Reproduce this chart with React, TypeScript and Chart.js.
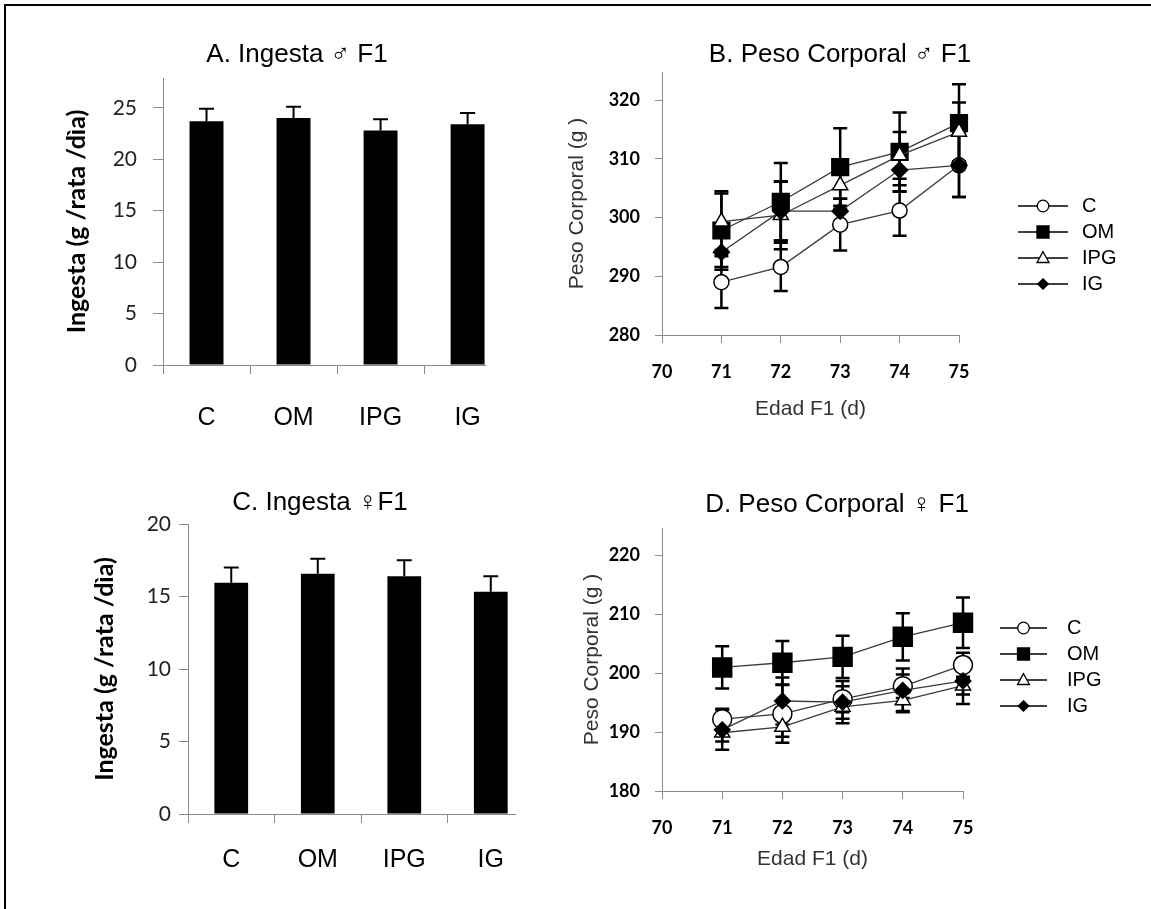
import React, { useEffect, useRef } from 'react';
import { Chart, registerables } from 'chart.js';

Chart.register(...registerables);

// ---------------- data ----------------
const CATEGORIES = ['C', 'OM', 'IPG', 'IG'];
const CATEGORY_BOUNDS = [-0.5, 0.5, 1.5, 2.5];

const INGESTA_MACHOS = [23.7, 24.0, 22.8, 23.4];
const INGESTA_MACHOS_ERR = [1.2, 1.1, 1.1, 1.1];
const INGESTA_HEMBRAS = [15.95, 16.57, 16.4, 15.33];
const INGESTA_HEMBRAS_ERR = [1.05, 1.03, 1.1, 1.07];

const DIAS = [71, 72, 73, 74, 75];
const GRUPOS = ['C', 'OM', 'IPG', 'IG'];

const PESO_M_C = [289.0, 291.6, 298.8, 301.2, 308.9];
const PESO_M_OM = [297.8, 302.7, 308.6, 311.2, 316.1];
const PESO_M_IPG = [299.3, 300.4, 305.5, 310.6, 314.6];
const PESO_M_IG = [294.1, 301.1, 301.1, 308.1, 308.9];
const PESO_M_C_ERR = [4.4, 4.1, 4.4, 4.3, 5.4];
const PESO_M_OM_ERR = [6.7, 6.6, 6.6, 6.7, 6.6];
const PESO_M_IPG_ERR = [4.8, 5.8, 4.0, 4.0, 5.0];
const PESO_M_IG_ERR = [2.5, 5.0, 2.1, 3.7, 5.4];

const PESO_H_C = [192.2, 193.1, 195.6, 197.8, 201.4];
const PESO_H_OM = [201.0, 201.8, 202.8, 206.2, 208.6];
const PESO_H_IPG = [189.9, 190.9, 194.3, 195.4, 197.9];
const PESO_H_IG = [190.4, 195.3, 195.1, 197.1, 198.7];
const PESO_H_C_ERR = [1.8, 4.9, 2.2, 2.0, 2.1];
const PESO_H_OM_ERR = [3.6, 3.7, 3.6, 4.0, 4.3];
const PESO_H_IPG_ERR = [1.5, 1.7, 2.0, 1.8, 1.5];
const PESO_H_IG_ERR = [3.4, 4.0, 3.6, 3.7, 3.9];

// ---------------- styles ----------------
const AXIS = '#8a8a8a';
const FONT_SANS = '"Liberation Sans", Arial, "DejaVu Sans", sans-serif';
const FONT_CAL = 'Lato, "Open Sans", sans-serif';

Chart.defaults.font.family = FONT_SANS;
Chart.defaults.color = '#000';

const MARKERS_B = [
  { style: 'circle', radius: 7.5, fill: '#fff' },
  { style: 'rect', radius: 11.8, fill: '#000' },
  { style: 'triangle', radius: 8.7, fill: '#fff' },
  { style: 'rectRot', radius: 8, fill: '#000' },
];
const MARKERS_D = [
  { style: 'circle', radius: 9.5, fill: '#fff' },
  { style: 'rect', radius: 13.4, fill: '#000' },
  { style: 'triangle', radius: 8.7, fill: '#fff' },
  { style: 'rectRot', radius: 7.8, fill: '#000' },
];
const LEGEND_SIZE: any = { circle: 5.8, rect: 6, triangle: 6, rectRot: 5.2 };

// ---------------- plugins ----------------
function drawMarker(ctx: any, kind: string, cx: number, cy: number, s: number, fill: string) {
  ctx.beginPath();
  if (kind === 'circle') ctx.arc(cx, cy, s, 0, Math.PI * 2);
  else if (kind === 'rect') ctx.rect(cx - s, cy - s, 2 * s, 2 * s);
  else if (kind === 'triangle') {
    ctx.moveTo(cx, cy - s * 1.05);
    ctx.lineTo(cx + s, cy + s * 0.75);
    ctx.lineTo(cx - s, cy + s * 0.75);
    ctx.closePath();
  } else {
    ctx.moveTo(cx, cy - s);
    ctx.lineTo(cx + s, cy);
    ctx.lineTo(cx, cy + s);
    ctx.lineTo(cx - s, cy);
    ctx.closePath();
  }
  ctx.fillStyle = fill;
  ctx.fill();
  ctx.strokeStyle = '#000';
  ctx.lineWidth = 1.3;
  ctx.stroke();
}

function drawErrorBars(chart: any, opts: any) {
  const ctx = chart.ctx;
  ctx.save();
  ctx.strokeStyle = '#000';
  ctx.lineWidth = opts.width;
  chart.data.datasets.forEach((ds: any, i: number) => {
    const errs = ds.errors;
    if (!errs) return;
    const meta = chart.getDatasetMeta(i);
    const yScale = chart.scales[meta.yAxisID];
    meta.data.forEach((el: any, j: number) => {
      const raw = ds.data[j];
      const v = typeof raw === 'number' ? raw : raw.y;
      const x = el.x;
      const yTop = yScale.getPixelForValue(v + errs[j]);
      const yBot = opts.upperOnly ? yScale.getPixelForValue(v) : yScale.getPixelForValue(v - errs[j]);
      const h = opts.cap / 2;
      ctx.beginPath();
      ctx.moveTo(x, yTop);
      ctx.lineTo(x, yBot);
      ctx.moveTo(x - h, yTop);
      ctx.lineTo(x + h, yTop);
      if (!opts.upperOnly) {
        ctx.moveTo(x - h, yBot);
        ctx.lineTo(x + h, yBot);
      }
      ctx.stroke();
    });
  });
  ctx.restore();
}

const errorBarPlugin = {
  id: 'errorBars',
  beforeDatasetsDraw(chart: any, _a: any, opts: any) {
    if (opts && opts.mode === 'line') drawErrorBars(chart, opts);
  },
  afterDatasetsDraw(chart: any, _a: any, opts: any) {
    if (opts && opts.mode === 'bar') drawErrorBars(chart, opts);
  },
};

const seriesLegendPlugin = {
  id: 'seriesLegend',
  afterDraw(chart: any, _a: any, opts: any) {
    if (!opts || !opts.display) return;
    const { ctx, chartArea } = chart;
    ctx.save();
    chart.data.datasets.forEach((ds: any, i: number) => {
      const y = opts.top + i * opts.spacing;
      const x0 = chartArea.right + opts.offset;
      const x1 = x0 + opts.lineLength;
      ctx.strokeStyle = '#000';
      ctx.lineWidth = 1.3;
      ctx.beginPath();
      ctx.moveTo(x0, y);
      ctx.lineTo(x1, y);
      ctx.stroke();
      drawMarker(ctx, ds.pointStyle, (x0 + x1) / 2, y, LEGEND_SIZE[ds.pointStyle], ds.pointBackgroundColor);
      ctx.fillStyle = '#000';
      ctx.font = `${opts.fontSize}px ${FONT_SANS}`;
      ctx.textBaseline = 'middle';
      ctx.textAlign = 'left';
      ctx.fillText(ds.label, x1 + opts.gap, y);
    });
    ctx.restore();
  },
};

// ---------------- configs ----------------
function barConfig(o: any) {
  return {
    type: 'bar',
    data: {
      datasets: [
        {
          label: o.label,
          data: CATEGORIES.map((_, i) => ({ x: i, y: o.values[i] })),
          errors: o.errors,
          backgroundColor: '#000',
          borderWidth: 0,
          categoryPercentage: 1,
          barPercentage: 0.39,
        },
      ],
    },
    options: {
      responsive: false,
      animation: false,
      devicePixelRatio: 1,
      events: [],
      layout: { padding: o.padding },
      plugins: {
        legend: { display: false },
        tooltip: { enabled: false },
        title: {
          display: true,
          text: o.title,
          color: '#000',
          font: { family: FONT_SANS, size: 26, weight: 'normal', lineHeight: 1.2 },
          padding: o.titlePadding,
        },
        errorBars: { mode: 'bar', upperOnly: true, cap: 15, width: 2 },
      },
      scales: {
        x: {
          type: 'linear',
          position: 'bottom',
          min: -0.5,
          max: o.xMax,
          offset: false,
          weight: 0,
          afterBuildTicks: (s: any) => {
            s.ticks = CATEGORY_BOUNDS.map((v) => ({ value: v }));
          },
          ticks: { display: false },
          grid: { display: true, drawOnChartArea: false, drawTicks: true, tickLength: 9, color: AXIS, offset: false },
          border: { display: true, color: AXIS, width: 1 },
          afterFit: (s: any) => {
            s.height = 9;
          },
        },
        x2: {
          type: 'linear',
          position: 'bottom',
          min: -0.5,
          max: o.xMax,
          offset: false,
          weight: 1,
          afterBuildTicks: (s: any) => {
            s.ticks = CATEGORIES.map((_, i) => ({ value: i }));
          },
          ticks: {
            display: true,
            autoSkip: false,
            maxRotation: 0,
            minRotation: 0,
            padding: o.labelPad,
            color: '#000',
            font: { family: FONT_SANS, size: 25 },
            callback: (v: any) => CATEGORIES[v],
          },
          grid: { display: false, offset: false },
          border: { display: false },
          afterFit: (s: any) => {
            s.height = o.x2Height;
          },
        },
        y: {
          type: 'linear',
          position: 'left',
          min: 0,
          max: o.yMax,
          ticks: { stepSize: 5, includeBounds: false, padding: o.yTickPad, color: '#222', font: { family: FONT_CAL, size: 21 } },
          grid: { display: true, drawOnChartArea: false, drawTicks: true, tickLength: o.yTickLen, color: AXIS },
          border: { display: true, color: AXIS },
          title: {
            display: true,
            text: 'Ingesta (g /rata /dìa)',
            color: '#000',
            font: { family: FONT_CAL, size: 25, weight: 'bold', lineHeight: 1.2 },
            padding: { top: o.yTitlePadTop, bottom: 0 },
          },
          afterFit: (s: any) => {
            s.width = o.yWidth;
          },
        },
        yR: {
          type: 'linear',
          position: 'right',
          display: true,
          min: 0,
          max: 1,
          ticks: { display: false },
          grid: { display: false },
          border: { display: false },
          afterFit: (s: any) => {
            s.width = o.yRWidth;
          },
        },
      },
    },
    plugins: [errorBarPlugin],
  };
}

function lineConfig(o: any) {
  return {
    type: 'line',
    data: {
      datasets: GRUPOS.map((g, k) => ({
        label: g,
        data: DIAS.map((d, j) => ({ x: d, y: o.series[k][j] })),
        errors: o.errors[k],
        borderColor: '#3a3a3a',
        borderWidth: 1.3,
        fill: false,
        tension: 0,
        pointStyle: o.markers[k].style,
        pointRadius: o.markers[k].radius,
        pointBackgroundColor: o.markers[k].fill,
        pointBorderColor: '#000',
        pointBorderWidth: 1.5,
        order: 4 - k,
        clip: false,
      })),
    },
    options: {
      responsive: false,
      animation: false,
      devicePixelRatio: 1,
      events: [],
      layout: { padding: o.padding },
      plugins: {
        legend: { display: false },
        tooltip: { enabled: false },
        title: {
          display: true,
          text: o.title,
          color: '#000',
          font: { family: FONT_SANS, size: 26, weight: 'normal', lineHeight: 1.2 },
          padding: o.titlePadding,
        },
        errorBars: { mode: 'line', upperOnly: false, cap: 14, width: 2.5 },
        seriesLegend: {
          display: true,
          top: o.legendTop,
          spacing: 26,
          offset: o.legendOffset,
          lineLength: o.legendLine,
          gap: o.legendGap,
          fontSize: 20,
        },
      },
      scales: {
        x: {
          type: 'linear',
          position: 'bottom',
          min: 70,
          max: 75,
          offset: false,
          ticks: {
            stepSize: 1,
            padding: 18.2,
            autoSkip: false,
            maxRotation: 0,
            color: '#000',
            font: { family: FONT_CAL, size: 18, weight: 'bold' },
          },
          grid: { display: true, drawOnChartArea: false, drawTicks: true, tickLength: 8, color: AXIS },
          border: { display: true, color: AXIS },
          title: {
            display: true,
            text: 'Edad F1 (d)',
            color: '#333',
            font: { family: FONT_SANS, size: 21, lineHeight: 1.2 },
            padding: { top: 0, bottom: o.xTitlePadBottom },
          },
          afterFit: (s: any) => {
            s.height = o.xHeight;
          },
        },
        y: {
          type: 'linear',
          position: 'left',
          min: o.yMin,
          max: o.yMax,
          ticks: {
            stepSize: 10,
            includeBounds: false,
            padding: 15,
            color: '#000',
            font: { family: FONT_CAL, size: 18, weight: 'bold' },
          },
          grid: { display: true, drawOnChartArea: false, drawTicks: true, tickLength: 7, color: AXIS },
          border: { display: true, color: AXIS },
          title: {
            display: true,
            text: 'Peso Corporal (g )',
            color: '#333',
            font: { family: FONT_SANS, size: 21, lineHeight: 1.2 },
            padding: { top: o.yTitlePadTop, bottom: 0 },
          },
          afterFit: (s: any) => {
            s.width = o.yWidth;
          },
        },
        yR: {
          type: 'linear',
          position: 'right',
          display: true,
          min: 0,
          max: 1,
          ticks: { display: false },
          grid: { display: false },
          border: { display: false },
          afterFit: (s: any) => {
            s.width = o.yRWidth;
          },
        },
      },
    },
    plugins: [errorBarPlugin, seriesLegendPlugin],
  };
}

const configA = () =>
  barConfig({
    label: 'Ingesta ♂ F1',
    values: INGESTA_MACHOS,
    errors: INGESTA_MACHOS_ERR,
    title: 'A. Ingesta ♂ F1',
    xMax: 3.2,
    yMax: 27.9,
    padding: { left: 25, right: 6, top: 10, bottom: 21 },
    titlePadding: { top: 29.4, bottom: 7.4 },
    yWidth: 138,
    yRWidth: 84,
    yTickLen: 10,
    yTickPad: 16,
    yTitlePadTop: 37,
    labelPad: 21,
    x2Height: 60,
  });

const configC = () =>
  barConfig({
    label: 'Ingesta ♀ F1',
    values: INGESTA_HEMBRAS,
    errors: INGESTA_HEMBRAS_ERR,
    title: 'C. Ingesta ♀F1',
    xMax: 3.28,
    yMax: 20,
    padding: { left: 65, right: 0, top: 5, bottom: 36 },
    titlePadding: { top: 27.4, bottom: 5.4 },
    yWidth: 123,
    yRWidth: 60,
    yTickLen: 9,
    yTickPad: 8,
    yTitlePadTop: 25,
    labelPad: 14,
    x2Height: 50,
  });

const configB = () =>
  lineConfig({
    title: 'B. Peso Corporal ♂ F1',
    series: [PESO_M_C, PESO_M_OM, PESO_M_IPG, PESO_M_IG],
    errors: [PESO_M_C_ERR, PESO_M_OM_ERR, PESO_M_IPG_ERR, PESO_M_IG_ERR],
    markers: MARKERS_B,
    yMin: 280,
    yMax: 324.8,
    padding: { left: 21, right: 32, top: 10, bottom: 20 },
    titlePadding: { top: 29.4, bottom: 1.4 },
    yWidth: 101,
    yRWidth: 160,
    xHeight: 100,
    xTitlePadBottom: 13.4,
    yTitlePadTop: 3.4,
    legendTop: 206,
    legendOffset: 59,
    legendLine: 50,
    legendGap: 14,
  });

const configD = () =>
  lineConfig({
    title: 'D. Peso Corporal ♀ F1',
    series: [PESO_H_C, PESO_H_OM, PESO_H_IPG, PESO_H_IG],
    errors: [PESO_H_C_ERR, PESO_H_OM_ERR, PESO_H_IPG_ERR, PESO_H_IG_ERR],
    markers: MARKERS_D,
    yMin: 180,
    yMax: 224.7,
    padding: { left: 31, right: 48, top: 5, bottom: 28 },
    titlePadding: { top: 29.4, bottom: 7.4 },
    yWidth: 91,
    yRWidth: 140,
    xHeight: 90,
    xTitlePadBottom: 9.4,
    yTitlePadTop: 8.4,
    legendTop: 173,
    legendOffset: 37,
    legendLine: 47,
    legendGap: 20,
  });

// ---------------- components ----------------
function ChartPanel({ left, top, width, height, config }: any) {
  const ref = useRef<HTMLCanvasElement>(null);
  useEffect(() => {
    const chart = new Chart(ref.current as HTMLCanvasElement, config() as any);
    return () => chart.destroy();
  }, []);
  return (
    <canvas
      ref={ref}
      width={width}
      height={height}
      style={{ position: 'absolute', left, top, width, height, display: 'block' }}
    />
  );
}

export default function App() {
  return (
    <div
      style={{
        position: 'absolute',
        left: 0,
        top: 0,
        width: 1151,
        height: 909,
        background: '#fff',
        overflow: 'hidden',
      }}
    >
      <div
        style={{
          position: 'absolute',
          left: 4,
          top: 4,
          width: 1160,
          height: 920,
          borderTop: '2px solid #000',
          borderLeft: '2px solid #000',
          boxSizing: 'border-box',
        }}
      />
      <ChartPanel left={0} top={0} width={575} height={455} config={configA} />
      <ChartPanel left={540} top={0} width={611} height={455} config={configB} />
      <ChartPanel left={0} top={455} width={575} height={454} config={configC} />
      <ChartPanel left={540} top={455} width={611} height={454} config={configD} />
    </div>
  );
}
